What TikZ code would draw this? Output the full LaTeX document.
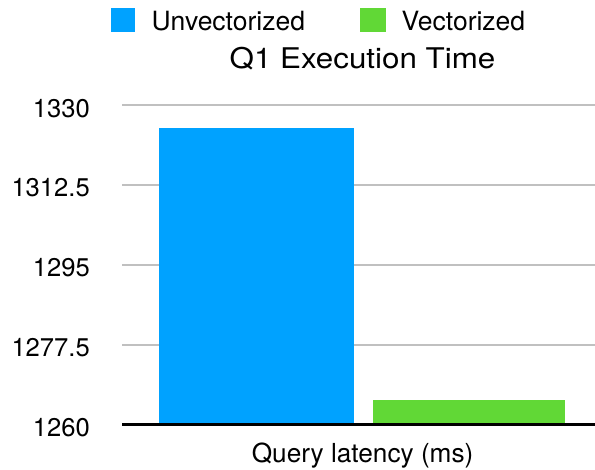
\documentclass[tikz,border=0pt]{standalone}
\usepackage{fontspec}
\setmainfont{TeX Gyre Heros}
\definecolor{barblue}{RGB}{0,162,255}
\definecolor{bargreen}{RGB}{97,216,54}
\definecolor{gridgray}{RGB}{192,192,192}
\begin{document}
\begin{tikzpicture}[x=1pt,y=-1pt,
  ticklabel/.style={anchor=base east,inner sep=0pt,font=\fontsize{25.6}{30}\selectfont},
  legendtext/.style={anchor=base west,inner sep=0pt,font=\fontsize{26.5}{31}\selectfont},
  gridline/.style={draw=gridgray,line width=1.2pt},
  axisline/.style={draw=black,line width=3pt}]
\useasboundingbox (0,0) rectangle (595,470);

% horizontal grid lines and the category axis
\foreach \yy in {105,185,265,345} {\draw[gridline] (122,\yy) -- (595,\yy);}

% bars
\fill[barblue] (159,127.7) rectangle (354,425);
\fill[bargreen] (373,400) rectangle (565,425);

\draw[axisline] (122,425) -- (595,425);

% value axis labels
\node[ticklabel] (t1330) at (90,117.5) {1330};
\node[ticklabel] (t13125) at (90,197) {1312.5};
\node[ticklabel] (t1295) at (90,277) {1295};
\node[ticklabel] (t12775) at (90,356.5) {1277.5};
\node[ticklabel] (t1260) at (90,436.5) {1260};

% legend
\fill[barblue] (111,8.3) rectangle (134.5,31.7);
\node[legendtext] (lunv) at (151.5,30.7) {Unvectorized};
\fill[bargreen] (360,8.3) rectangle (385.5,31.7);
\node[legendtext] (lvec) at (401.5,30.7) {Vectorized};

% title and category label
\node[anchor=base,inner sep=0pt,font=\fontsize{28.5}{34}\selectfont] (title) at (362.5,68.3)
  {\scalebox{1.1}[1]{Q1 Execution Time}};
\node[anchor=base,inner sep=0pt,font=\fontsize{26.2}{31}\selectfont] (xlabel) at (362.6,462.7)
  {Query latency (ms)};
\end{tikzpicture}
\end{document}
